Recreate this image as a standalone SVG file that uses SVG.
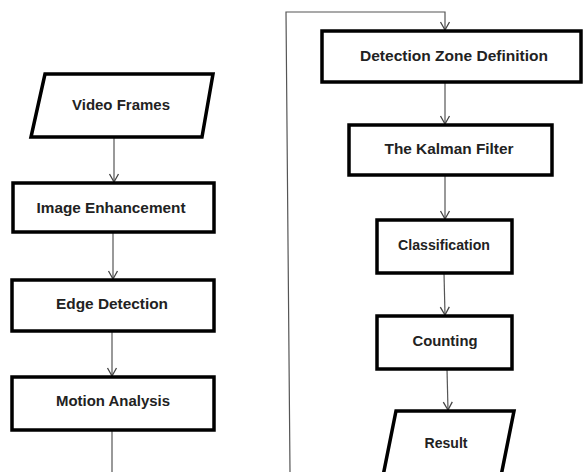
<svg xmlns="http://www.w3.org/2000/svg" width="583" height="472" viewBox="0 0 583 472">
<style>
.box{fill:#fff;stroke:#000;stroke-width:3.5;stroke-linejoin:miter}
.lbl{font-family:"Liberation Sans",Arial,sans-serif;font-weight:bold;font-size:15px;fill:#222;text-anchor:middle}
.con{fill:none;stroke:#555;stroke-width:1.2}
</style>
<defs>
<marker id="arr" markerWidth="12" markerHeight="12" refX="10" refY="6" orient="auto" markerUnits="userSpaceOnUse" viewBox="0 0 12 12">
<path d="M2,1.5 L10,6 L2,10.5" fill="none" stroke="#444" stroke-width="1.3"/>
</marker>
</defs>
<rect width="583" height="472" fill="#fff"/>
<g id="connectors">
<line class="con" x1="114" y1="138" x2="114" y2="182" marker-end="url(#arr)"/>
<line class="con" x1="113" y1="232" x2="113" y2="279" marker-end="url(#arr)"/>
<line class="con" x1="112" y1="331" x2="112" y2="376" marker-end="url(#arr)"/>
<line class="con" x1="112" y1="430" x2="112" y2="472"/>
<polyline class="con" points="290,472 286,12 445,12 445,30" marker-end="url(#arr)"/>
<line class="con" x1="445" y1="82" x2="445" y2="124" marker-end="url(#arr)"/>
<line class="con" x1="445" y1="175" x2="445" y2="219" marker-end="url(#arr)"/>
<line class="con" x1="444" y1="273" x2="445" y2="315" marker-end="url(#arr)"/>
<line class="con" x1="447" y1="369" x2="448" y2="410" marker-end="url(#arr)"/>
</g>
<g id="video-frames">
<polygon class="box" points="45,74 213,74 202,137 31,137"/>
<text class="lbl" x="121" y="110" textLength="98" lengthAdjust="spacingAndGlyphs">Video Frames</text>
</g>
<g id="image-enhancement">
<rect class="box" x="13" y="183" width="201" height="49"/>
<text class="lbl" x="111" y="213" textLength="149" lengthAdjust="spacingAndGlyphs">Image Enhancement</text>
</g>
<g id="edge-detection">
<rect class="box" x="12" y="280" width="202" height="51"/>
<text class="lbl" x="112" y="309" textLength="112" lengthAdjust="spacingAndGlyphs">Edge Detection</text>
</g>
<g id="motion-analysis">
<rect class="box" x="12" y="377" width="202" height="53"/>
<text class="lbl" x="113" y="406" textLength="114" lengthAdjust="spacingAndGlyphs">Motion Analysis</text>
</g>
<g id="detection-zone-definition">
<rect class="box" x="322" y="31" width="259" height="51"/>
<text class="lbl" x="454" y="61" textLength="188" lengthAdjust="spacingAndGlyphs">Detection Zone Definition</text>
</g>
<g id="kalman-filter">
<rect class="box" x="349" y="125" width="203" height="50"/>
<text class="lbl" x="449" y="154" textLength="129" lengthAdjust="spacingAndGlyphs">The Kalman Filter</text>
</g>
<g id="classification">
<rect class="box" x="377" y="220" width="135" height="53"/>
<text class="lbl" x="444" y="250" textLength="92" lengthAdjust="spacingAndGlyphs">Classification</text>
</g>
<g id="counting">
<rect class="box" x="377" y="316" width="135" height="53"/>
<text class="lbl" x="445" y="346" textLength="65" lengthAdjust="spacingAndGlyphs">Counting</text>
</g>
<g id="result">
<polygon class="box" points="396,411 514,411 501,476 383,476"/>
<text class="lbl" x="446" y="448" textLength="43" lengthAdjust="spacingAndGlyphs">Result</text>
</g>
</svg>
